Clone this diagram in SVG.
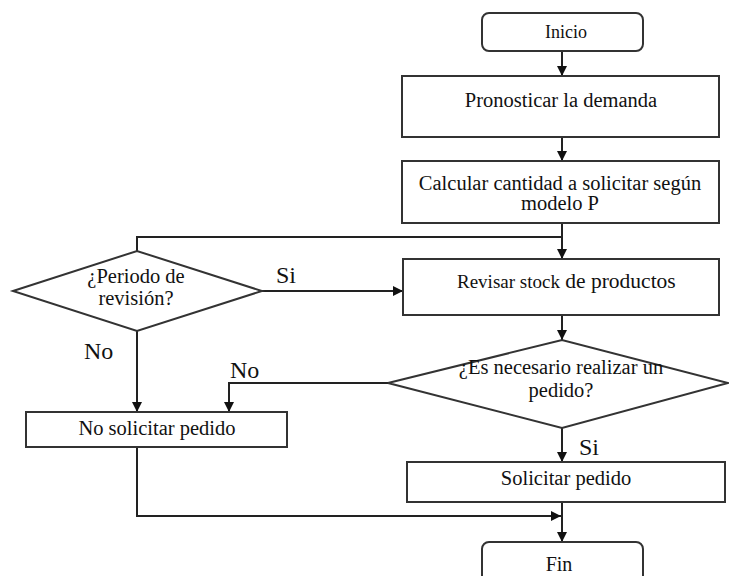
<svg xmlns="http://www.w3.org/2000/svg" width="729" height="576" viewBox="0 0 729 576">
<defs>
<marker id="arr" viewBox="0 0 10 10" refX="10" refY="5" markerWidth="10" markerHeight="10" markerUnits="userSpaceOnUse" orient="auto">
<path d="M0,0 L10,5 L0,10 Z" fill="#111"/>
</marker>
<style>
.box{fill:#fff;stroke:#333;stroke-width:2}
text{font-family:'Liberation Serif',Tinos,'DejaVu Serif',serif;fill:#111}
.t{font-size:20.5px;text-anchor:middle}
.lbl{font-size:24px}
.c{fill:none;stroke:#222;stroke-width:2}
.ca{fill:none;stroke:#222;stroke-width:2;marker-end:url(#arr)}
</style>
</defs>
<rect width="729" height="576" fill="#fff"/>
<g id="connectors">
<line class="ca" x1="562" y1="51" x2="562" y2="76"/>
<line class="ca" x1="562" y1="137" x2="562" y2="161"/>
<line class="ca" x1="562" y1="223" x2="562" y2="259"/>
<polyline class="c" points="137,251 137,237 562,237"/>
<line class="ca" x1="262" y1="291" x2="403" y2="291"/>
<line class="ca" x1="137" y1="331" x2="137" y2="412"/>
<line class="ca" x1="562" y1="315" x2="562" y2="340"/>
<polyline class="ca" points="388,383 229,383 229,412"/>
<line class="ca" x1="562" y1="428" x2="562" y2="462"/>
<line class="ca" x1="562" y1="502" x2="562" y2="542"/>
<polyline class="ca" points="137,447 137,516 561,516"/>
<text class="lbl" x="276" y="283" font-family="Liberation Serif, DejaVu Serif, serif">Si</text>
<text class="lbl" x="84" y="359" font-family="Liberation Serif, DejaVu Serif, serif">No</text>
<text class="lbl" x="230" y="378" font-family="Liberation Serif, DejaVu Serif, serif">No</text>
<text class="lbl" x="579" y="455" font-family="Liberation Serif, DejaVu Serif, serif">Si</text>
</g>
<g id="inicio">
<rect class="box" x="482" y="13" width="161" height="38" rx="7"/>
<text class="t" x="566" y="38" style="font-size:18px">Inicio</text>
</g>
<g id="pronosticar">
<rect class="box" x="402" y="76" width="317" height="61"/>
<text class="t" x="561" y="107">Pronosticar la demanda</text>
</g>
<g id="calcular">
<rect class="box" x="402" y="161" width="317" height="62"/>
<text class="t" x="560" y="190">Calcular cantidad a solicitar según</text>
<text class="t" x="560" y="210">modelo P</text>
</g>
<g id="periodo">
<polygon class="box" points="13,291 137,251 262,291 137,331"/>
<text class="t" x="136" y="283">¿Periodo de</text>
<text class="t" x="136" y="305">revisión?</text>
</g>
<g id="revisar">
<rect class="box" x="403" y="259" width="316" height="56"/>
<text x="457" y="288" style="font-size:19px">Revisar stock<tspan style="font-size:21.5px"> de productos</tspan></text>
</g>
<g id="necesario">
<polygon class="box" points="388,383 562,340 728,383 562,428"/>
<text class="t" x="561" y="374">¿Es necesario realizar un</text>
<text class="t" x="561" y="397">pedido?</text>
</g>
<g id="no-solicitar">
<rect class="box" x="26" y="412" width="261" height="35"/>
<text class="t" x="157" y="435">No solicitar pedido</text>
</g>
<g id="solicitar">
<rect class="box" x="407" y="462" width="318" height="40"/>
<text class="t" x="566" y="485">Solicitar pedido</text>
</g>
<g id="fin">
<rect class="box" x="482" y="542" width="161" height="50" rx="7"/>
<text class="t" x="559" y="571" style="font-size:20px">Fin</text>
</g>
</svg>
